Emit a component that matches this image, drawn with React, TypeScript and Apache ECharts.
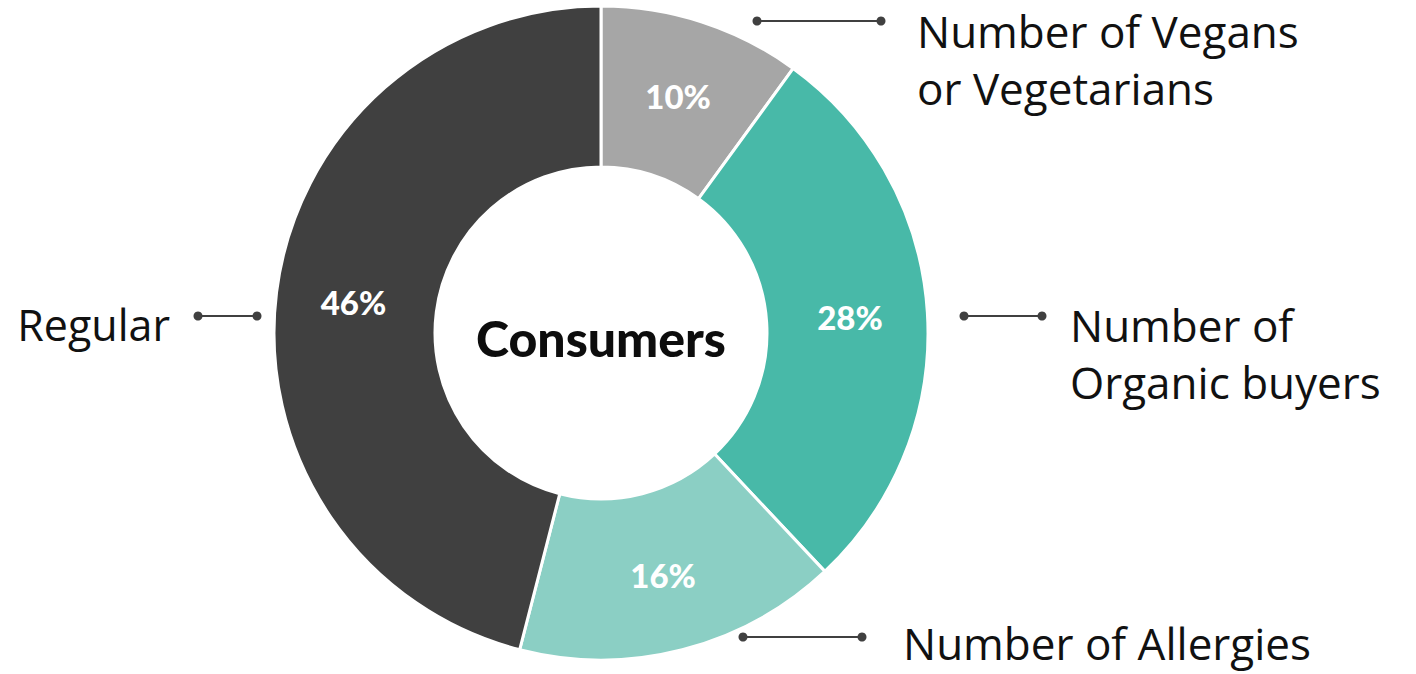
import React, { useEffect, useRef } from "react";
import * as echarts from "echarts";

const categories = ["Number of Vegans or Vegetarians", "Number of Organic buyers", "Number of Allergies", "Regular"];
const values = [10, 28, 16, 46];
const sliceColors = ["#a6a6a6", "#48b9a8", "#8bcfc4", "#404040"];
const centerTitle = "Consumers";
const outerLabels = [
  { lines: ["Number of Vegans", "or Vegetarians"], align: "left" },
  { lines: ["Number of", "Organic buyers"], align: "left" },
  { lines: ["Number of Allergies"], align: "left" },
  { lines: ["Regular"], align: "right" },
];

// annotation placement (layout only)
const annot = [
  { lx1: 757, lx2: 881, ly: 21, tx: 917, ty: 31 },
  { lx1: 964, lx2: 1042, ly: 316, tx: 1070, ty: 325 },
  { lx1: 743, lx2: 862, ly: 637, tx: 903, ty: 643 },
  { lx1: 198, lx2: 257, ly: 316, tx: 170, ty: 324 },
];

const LABEL_FONT = "'Open Sans', Lato, sans-serif";
const FONT = "Lato, 'Open Sans', sans-serif";
const LINE_COLOR = "#404040";

export default function App() {
  const ref = useRef<HTMLDivElement>(null);
  useEffect(() => {
    if (!ref.current) return;
    const chart = echarts.init(ref.current, null, { renderer: "svg" });
    const graphics: any[] = [];
    outerLabels.forEach((lab, i) => {
      const a = annot[i];
      graphics.push({
        type: "line",
        shape: { x1: a.lx1, y1: a.ly, x2: a.lx2, y2: a.ly },
        style: { stroke: LINE_COLOR, lineWidth: 2 },
        silent: true,
      });
      graphics.push({ type: "circle", shape: { cx: a.lx1, cy: a.ly, r: 4.5 }, style: { fill: LINE_COLOR }, silent: true });
      graphics.push({ type: "circle", shape: { cx: a.lx2, cy: a.ly, r: 4.5 }, style: { fill: LINE_COLOR }, silent: true });
      lab.lines.forEach((t, j) => {
        graphics.push({
          type: "text",
          x: a.tx,
          y: a.ty + j * 57,
          style: {
            text: t,
            fill: "#111111",
            font: `400 ${lab.align === "right" ? 43 : 44}px ${LABEL_FONT}`,
            lineHeight: 44,
            textAlign: lab.align,
            textVerticalAlign: "middle",
          },
          silent: true,
        });
      });
    });
    graphics.push({
      type: "text",
      x: 601,
      y: 338,
      style: {
        text: centerTitle,
        fill: "#0d0d0d",
        font: `900 50px ${FONT}`,
        textAlign: "center",
        textVerticalAlign: "middle",
      },
      silent: true,
    });

    chart.setOption({
      animation: false,
      backgroundColor: "#ffffff",
      series: [
        {
          type: "pie",
          center: [601, 333],
          radius: [166, 327],
          startAngle: 90,
          clockwise: true,
          avoidLabelOverlap: false,
          itemStyle: { borderColor: "#ffffff", borderWidth: 3 },
          label: {
            show: true,
            position: "inside",
            formatter: "{c}%",
            color: "#ffffff",
            fontFamily: FONT,
            fontWeight: 900,
            fontSize: 33,
          },
          labelLine: { show: false },
          emphasis: { disabled: true },
          data: categories.map((name, i) => ({
            name,
            value: values[i],
            itemStyle: { color: sliceColors[i] },
          })),
        },
      ],
      graphic: graphics,
    });
    return () => chart.dispose();
  }, []);
  return <div ref={ref} style={{ position: "fixed", left: 0, top: 0, width: 1416, height: 674 }} />;
}
